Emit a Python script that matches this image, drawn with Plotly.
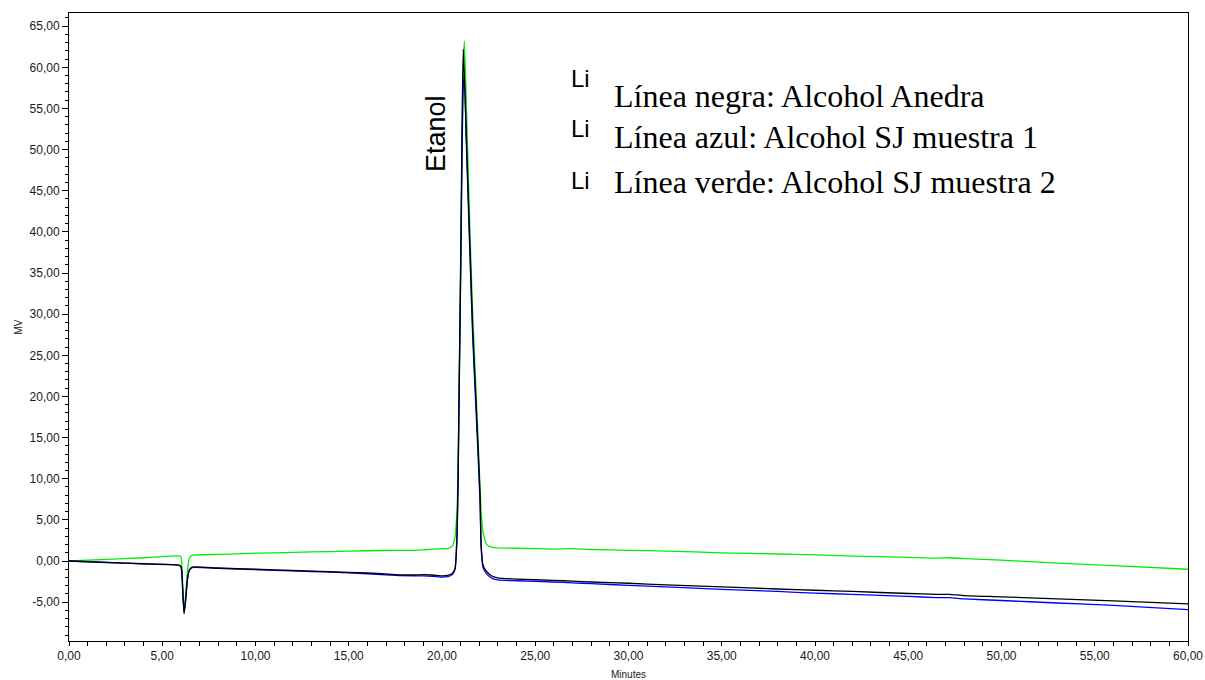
import plotly.graph_objects as go

# Retention time (minutes)
minutes = [0, 2, 4, 5.9, 6.0, 6.05, 6.1, 6.17, 6.25, 6.35,
           6.45, 6.6, 8, 10, 12, 14, 16, 17.5, 18.5, 19.0,
           19.5, 20.0, 20.3, 20.55, 20.7, 20.8, 20.86, 20.91, 20.97, 21.02,
           21.08, 21.14, 21.2, 21.3, 21.4, 21.5, 21.65, 21.82, 21.95, 22.04,
           22.1, 22.2, 22.4, 22.7, 23.0, 24, 26, 27, 28, 30,
           32, 35, 38, 40, 42, 45, 46.5, 47.2, 48, 50,
           53, 56, 60]

# Detector signal (mV) for each sample
anedra = [0, -0.17, -0.33, -0.5, -0.65, -1.3, -3.6, -6.4, -4.8, -2.2,
          -1.1, -0.75, -0.85, -1.0, -1.15, -1.3, -1.45, -1.65, -1.7, -1.65,
          -1.7, -1.8, -1.75, -1.5, -0.9, 3, 9.8, 19.6, 30, 40,
          54, 62.2, 59, 52, 45, 38, 28, 19.6, 13, 8,
          2, -0.5, -1.3, -1.85, -2.05, -2.2, -2.35, -2.45, -2.55, -2.7,
          -2.9, -3.15, -3.4, -3.55, -3.7, -3.95, -4.05, -4.05, -4.2, -4.35,
          -4.6, -4.85, -5.2]

sj_muestra_1 = [0, -0.18, -0.35, -0.52, -0.7, -1.4, -3.8, -6.3, -4.9, -2.3,
                -1.15, -0.8, -0.9, -1.05, -1.2, -1.35, -1.55, -1.75, -1.8, -1.8,
                -1.85, -1.95, -1.9, -1.65, -1.0, 2.5, 9, 18.5, 29, 38,
                50, 57.5, 59.1, 51, 44, 37, 27, 18.5, 12, 7,
                1.5, -0.8, -1.6, -2.1, -2.3, -2.4, -2.55, -2.65, -2.75, -2.95,
                -3.15, -3.45, -3.7, -3.9, -4.05, -4.3, -4.45, -4.45, -4.6, -4.8,
                -5.1, -5.4, -5.9]

sj_muestra_2 = [0, 0.2, 0.4, 0.62, 0.5, -0.3, -3.0, -5.9, -4.2, -1.2,
                0.3, 0.7, 0.8, 0.95, 1.05, 1.15, 1.25, 1.3, 1.3, 1.35,
                1.45, 1.5, 1.5, 1.8, 3, 6, 11, 20, 31, 40,
                52, 60, 63.2, 56, 48, 40, 30, 21, 14, 9,
                6, 3.5, 2, 1.65, 1.6, 1.55, 1.45, 1.5, 1.4, 1.3,
                1.2, 1.0, 0.85, 0.75, 0.6, 0.45, 0.35, 0.4, 0.3, 0.1,
                -0.25, -0.55, -1.0]

# Axis ticks
x_ticks = [0, 5, 10, 15, 20, 25, 30, 35, 40, 45, 50, 55, 60]
x_tick_labels = ["0,00", "5,00", "10,00", "15,00", "20,00", "25,00", "30,00",
                 "35,00", "40,00", "45,00", "50,00", "55,00", "60,00"]
y_ticks = [-5, 0, 5, 10, 15, 20, 25, 30, 35, 40, 45, 50, 55, 60, 65]
y_tick_labels = ["-5,00", "0,00", "5,00", "10,00", "15,00", "20,00", "25,00",
                 "30,00", "35,00", "40,00", "45,00", "50,00", "55,00",
                 "60,00", "65,00"]

legend_lines = ["Línea negra: Alcohol Anedra",
                "Línea azul: Alcohol SJ muestra 1",
                "Línea verde: Alcohol SJ muestra 2"]

fig = go.Figure()
line_style = dict(width=1.3, shape="spline", smoothing=0.5)
fig.add_trace(go.Scatter(x=minutes, y=sj_muestra_2, mode="lines",
                         line=dict(color="#00ee00", **line_style)))
fig.add_trace(go.Scatter(x=minutes, y=sj_muestra_1, mode="lines",
                         line=dict(color="#0000ff", **line_style)))
fig.add_trace(go.Scatter(x=minutes, y=anedra, mode="lines",
                         line=dict(color="#000000", **line_style)))

tick_font = dict(family="Liberation Sans, Arial, sans-serif", size=12, color="#1a1a1a")

fig.update_layout(
    width=1205, height=680,
    margin=dict(l=69, r=17, t=13, b=39),
    paper_bgcolor="white", plot_bgcolor="white",
    showlegend=False,
    xaxis=dict(
        range=[0, 60], tickvals=x_ticks, ticktext=x_tick_labels,
        automargin=False,
        showgrid=False, zeroline=False, showline=True, mirror=True,
        linecolor="black", linewidth=1,
        ticks="outside", ticklen=4, tickcolor="black",
        minor=dict(dtick=1, tick0=0, ticks="outside", ticklen=4, tickcolor="black"),
        tickfont=tick_font,
        title=dict(text="Minutes", font=dict(family="Liberation Sans, Arial", size=10, color="#1a1a1a"),
                   standoff=9),
    ),
    yaxis=dict(
        range=[-9.72, 66.6], tickvals=y_ticks, ticktext=y_tick_labels,
        automargin=False,
        showgrid=False, zeroline=False, showline=True, mirror=True,
        linecolor="black", linewidth=1,
        ticks="outside", ticklen=6, tickcolor="black",
        minor=dict(dtick=1, tick0=0, ticks="outside", ticklen=3, tickcolor="black"),
        tickfont=tick_font,
        title=dict(text="MV", font=dict(family="Liberation Sans, Arial", size=10, color="#1a1a1a"),
                   standoff=5),
    ),
)

# Peak label
fig.add_annotation(x=19.68, y=51.9, xref="x", yref="y", text="Etanol",
                   textangle=-90, showarrow=False,
                   font=dict(family="Liberation Sans, Arial", size=27, color="black"))

# Sample key (paper coordinates)
def px_to_paper_x(px):
    return (px - 69) / 1119

def px_to_paper_y(py):
    return (641 - py) / 628

li_centers = [78, 128, 180]
text_centers = [96, 137, 182]
for i, label in enumerate(legend_lines):
    fig.add_annotation(x=px_to_paper_x(569), y=px_to_paper_y(li_centers[i]),
                       xref="paper", yref="paper", text="Li", showarrow=False,
                       xanchor="left", yanchor="middle",
                       font=dict(family="Liberation Sans, Arial", size=24, color="black"))
    fig.add_annotation(x=px_to_paper_x(612), y=px_to_paper_y(text_centers[i]),
                       xref="paper", yref="paper", text=label, showarrow=False,
                       xanchor="left", yanchor="middle",
                       font=dict(family="Liberation Serif, Times New Roman, serif", size=32, color="black"))

fig.write_html("out.html")
